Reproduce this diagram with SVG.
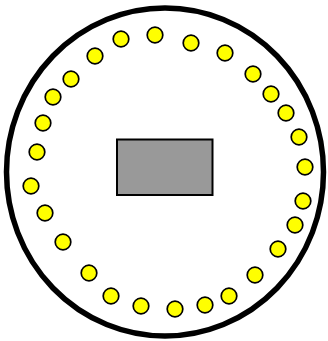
<svg xmlns="http://www.w3.org/2000/svg" width="328" height="341" viewBox="0 0 328 341">
<style>
.dot{fill:#ffff00;stroke:#000;stroke-width:1.7}
</style>
<rect width="328" height="341" fill="#fff"/>
<g id="outer"><ellipse cx="165" cy="172" rx="158.5" ry="164" fill="#fff" stroke="#000" stroke-width="5.5"/></g>
<g id="center"><rect x="117" y="139.5" width="95.5" height="55.5" fill="#999" stroke="#000" stroke-width="2"/></g>
<g id="dots">
<circle class="dot" cx="155" cy="35" r="7.8"/>
<circle class="dot" cx="121" cy="39" r="7.8"/>
<circle class="dot" cx="191" cy="43" r="7.8"/>
<circle class="dot" cx="95" cy="56" r="7.8"/>
<circle class="dot" cx="225" cy="53" r="7.8"/>
<circle class="dot" cx="71" cy="79" r="7.8"/>
<circle class="dot" cx="253" cy="74" r="7.8"/>
<circle class="dot" cx="53" cy="97" r="7.8"/>
<circle class="dot" cx="271" cy="94" r="7.8"/>
<circle class="dot" cx="43" cy="123" r="7.8"/>
<circle class="dot" cx="286" cy="113" r="7.8"/>
<circle class="dot" cx="299" cy="137" r="7.8"/>
<circle class="dot" cx="37" cy="152" r="7.8"/>
<circle class="dot" cx="305" cy="167" r="7.8"/>
<circle class="dot" cx="31" cy="186" r="7.8"/>
<circle class="dot" cx="303" cy="201" r="7.8"/>
<circle class="dot" cx="45" cy="213" r="7.8"/>
<circle class="dot" cx="295" cy="225" r="7.8"/>
<circle class="dot" cx="63" cy="242" r="7.8"/>
<circle class="dot" cx="278" cy="249" r="7.8"/>
<circle class="dot" cx="89" cy="273" r="7.8"/>
<circle class="dot" cx="255" cy="275" r="7.8"/>
<circle class="dot" cx="111" cy="296" r="7.8"/>
<circle class="dot" cx="229" cy="296" r="7.8"/>
<circle class="dot" cx="141" cy="306" r="7.8"/>
<circle class="dot" cx="205" cy="305" r="7.8"/>
<circle class="dot" cx="175" cy="309" r="7.8"/>
</g>
</svg>
